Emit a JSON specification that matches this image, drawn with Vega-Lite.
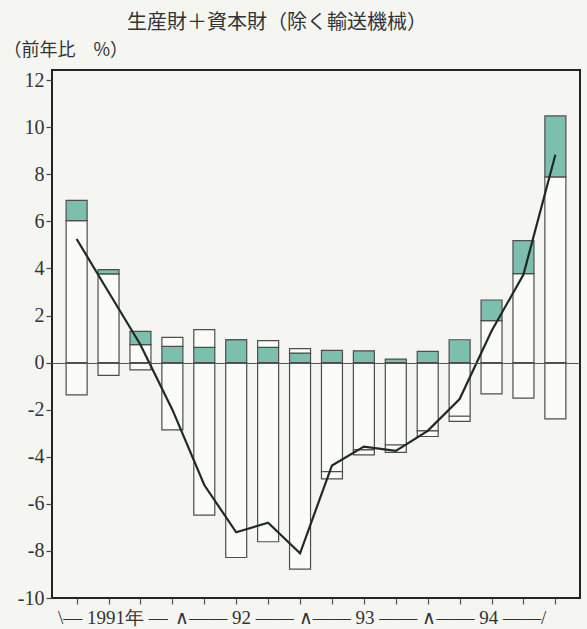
{
  "$schema": "https://vega.github.io/schema/vega-lite/v6.json",
  "width": 528,
  "height": 528,
  "autosize": {"type": "none"},
  "padding": {"left": 52, "top": 70, "right": 7, "bottom": 31},
  "background": "#f5f6f1",
  "title": {"text": "生産財＋資本財（除く輸送機械）", "anchor": "start", "frame": "group", "dx": 75, "offset": 8, "font": "Noto Sans CJK JP", "fontSize": 20, "fontWeight": "normal", "color": "#333333"},
  "config": {"view": {"stroke": "#222222", "strokeWidth": 2}},
  "resolve": {"axis": {"x": "independent"}},
  "layer": [
    {
      "data": {"values": [
        {"q": 1, "s": "a", "v": 6.03}, {"q": 1, "s": "b", "v": 0.86}, {"q": 1, "s": "c", "v": -1.37},
        {"q": 2, "s": "a", "v": 3.77}, {"q": 2, "s": "b", "v": 0.18}, {"q": 2, "s": "c", "v": -0.54},
        {"q": 3, "s": "a", "v": 0.76}, {"q": 3, "s": "b", "v": 0.57}, {"q": 3, "s": "c", "v": -0.31},
        {"q": 4, "s": "a", "v": -2.86}, {"q": 4, "s": "b", "v": 0.69}, {"q": 4, "s": "c", "v": 0.38},
        {"q": 5, "s": "a", "v": -6.48}, {"q": 5, "s": "b", "v": 0.65}, {"q": 5, "s": "c", "v": 0.75},
        {"q": 6, "s": "a", "v": -8.28}, {"q": 6, "s": "b", "v": 0.97}, {"q": 6, "s": "c", "v": 0},
        {"q": 7, "s": "a", "v": -7.61}, {"q": 7, "s": "b", "v": 0.65}, {"q": 7, "s": "c", "v": 0.28},
        {"q": 8, "s": "a", "v": -8.77}, {"q": 8, "s": "b", "v": 0.4}, {"q": 8, "s": "c", "v": 0.19},
        {"q": 9, "s": "a", "v": -4.63}, {"q": 9, "s": "b", "v": 0.52}, {"q": 9, "s": "c", "v": -0.31},
        {"q": 10, "s": "a", "v": -3.71}, {"q": 10, "s": "b", "v": 0.5}, {"q": 10, "s": "c", "v": -0.21},
        {"q": 11, "s": "a", "v": -3.5}, {"q": 11, "s": "b", "v": 0.15}, {"q": 11, "s": "c", "v": -0.31},
        {"q": 12, "s": "a", "v": -2.9}, {"q": 12, "s": "b", "v": 0.48}, {"q": 12, "s": "c", "v": -0.24},
        {"q": 13, "s": "a", "v": -2.28}, {"q": 13, "s": "b", "v": 0.97}, {"q": 13, "s": "c", "v": -0.22},
        {"q": 14, "s": "a", "v": 1.78}, {"q": 14, "s": "b", "v": 0.88}, {"q": 14, "s": "c", "v": -1.33},
        {"q": 15, "s": "a", "v": 3.78}, {"q": 15, "s": "b", "v": 1.4}, {"q": 15, "s": "c", "v": -1.51},
        {"q": 16, "s": "a", "v": 7.89}, {"q": 16, "s": "b", "v": 2.59}, {"q": 16, "s": "c", "v": -2.39}
      ]},
      "mark": {"type": "bar", "width": 21, "stroke": "#4d4d4d", "strokeWidth": 1.2},
      "encoding": {
        "x": {
          "field": "q", "type": "quantitative", "title": null,
          "scale": {"domain": [0.385, 16.615], "nice": false, "zero": false},
          "axis": {
            "orient": "bottom",
            "values": [1, 2, 3, 4, 5, 6, 7, 8, 9, 10, 11, 12, 13, 14, 15, 16],
            "domain": false, "grid": false, "labels": false,
            "tickSize": 6, "tickColor": "#555555", "tickWidth": 1.2
          }
        },
        "y": {
          "field": "v", "type": "quantitative", "stack": "zero", "title": "（前年比　%）",
          "scale": {"domain": [-10, 12.43], "nice": false},
          "axis": {
            "values": [-10, -8, -6, -4, -2, 0, 2, 4, 6, 8, 10, 12],
            "labelExpr": "'' + datum.value",
            "domain": false, "zindex": 1,
            "grid": true, "gridColor": "#555555", "gridWidth": 1.2,
            "gridOpacity": {"condition": {"test": "datum.value == 0", "value": 1}, "value": 0},
            "tickSize": 6, "tickColor": "#444444", "tickWidth": 1.2,
            "labelFont": "Liberation Serif", "labelFontSize": 20, "labelColor": "#333333", "labelPadding": 2,
            "titleAngle": 0, "titleAlign": "left", "titleBaseline": "middle",
            "titleX": -49, "titleY": -20,
            "titleFont": "Noto Sans CJK JP", "titleFontSize": 18, "titleFontWeight": "normal", "titleColor": "#333333"
          }
        },
        "color": {"field": "s", "type": "nominal", "scale": {"domain": ["a", "b", "c"], "range": ["#fbfcf8", "#7dbfae", "#fbfcf8"]}, "legend": null},
        "order": {"field": "s"}
      }
    },
    {
      "data": {"values": [
        {"q": 1, "v": 5.25}, {"q": 2, "v": 3.0}, {"q": 3, "v": 0.76}, {"q": 4, "v": -2.0},
        {"q": 5, "v": -5.2}, {"q": 6, "v": -7.21}, {"q": 7, "v": -6.8}, {"q": 8, "v": -8.1},
        {"q": 9, "v": -4.37}, {"q": 10, "v": -3.57}, {"q": 11, "v": -3.75}, {"q": 12, "v": -2.9},
        {"q": 13, "v": -1.55}, {"q": 14, "v": 1.34}, {"q": 15, "v": 3.74}, {"q": 16, "v": 8.83}
      ]},
      "mark": {"type": "line", "color": "#1f2a27", "strokeWidth": 2.2},
      "encoding": {
        "x": {
          "field": "q", "type": "quantitative", "title": null,
          "axis": {
            "orient": "bottom",
            "values": [0.4, 4.074, 7.947, 11.82],
            "domain": false, "grid": false, "ticks": false,
            "labelExpr": "datum.value < 1 ? '\\\\— 1991年 —' : datum.value < 5 ? '∧—— 92 ——' : datum.value < 9 ? '∧—— 93 ——' : '∧—— 94 ——/'",
            "labelAlign": "left", "labelBaseline": "top",
            "labelFont": "Liberation Serif", "labelFontSize": 19, "labelColor": "#333333",
            "labelPadding": 10, "labelOverlap": false, "labelBound": false, "labelFlush": false
          }
        },
        "y": {"field": "v", "type": "quantitative", "title": "（前年比　%）"}
      }
    }
  ]
}
